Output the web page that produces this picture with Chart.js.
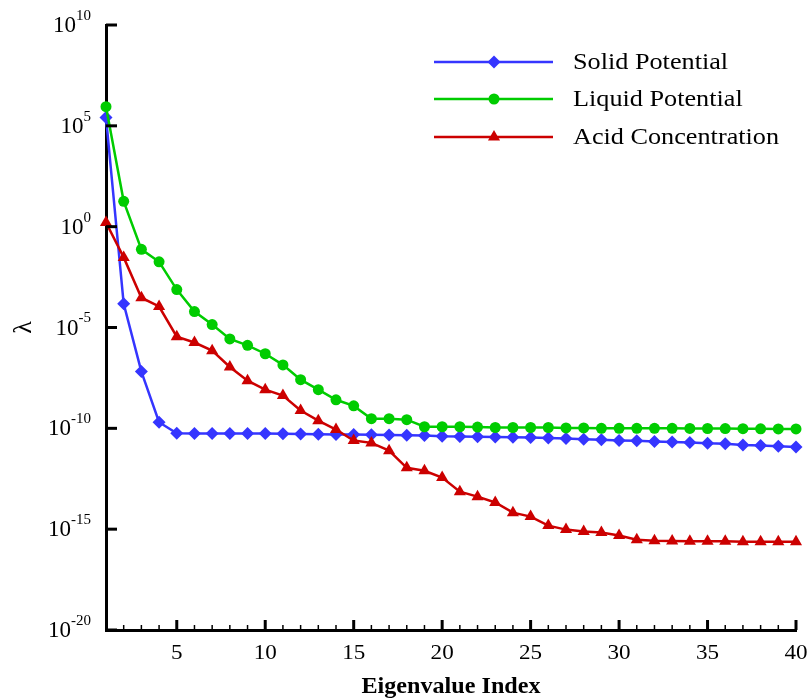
<!DOCTYPE html>
<html>
<head>
<meta charset="utf-8">
<script src="https://cdn.jsdelivr.net/npm/chart.js@4.4.1/dist/chart.umd.min.js"></script>
<style>
  body { margin: 0; background: #fff; }
</style>
</head>
<body>
<canvas id="eigChart" width="809" height="700"></canvas>
<script>
// Eigenvalue index (x axis)
var eigIndex = [1, 2, 3, 4, 5, 6, 7, 8, 9, 10,
                11, 12, 13, 14, 15, 16, 17, 18, 19, 20,
                21, 22, 23, 24, 25, 26, 27, 28, 29, 30,
                31, 32, 33, 34, 35, 36, 37, 38, 39, 40];

// lambda values
var solidPotential = [2.6e5, 1.5e-4, 6.5e-8, 2.0e-10, 5.7e-11, 5.6e-11, 5.6e-11, 5.6e-11, 5.5e-11, 5.5e-11,
                      5.4e-11, 5.2e-11, 5.1e-11, 5.0e-11, 4.9e-11, 4.8e-11, 4.7e-11, 4.6e-11, 4.4e-11, 4.0e-11,
                      3.9e-11, 3.8e-11, 3.7e-11, 3.6e-11, 3.5e-11, 3.3e-11, 3.1e-11, 2.9e-11, 2.7e-11, 2.5e-11,
                      2.4e-11, 2.2e-11, 2.1e-11, 2.0e-11, 1.8e-11, 1.7e-11, 1.5e-11, 1.4e-11, 1.3e-11, 1.2e-11];

var liquidPotential = [8.9e5, 1.8e1, 7.5e-2, 1.8e-2, 7.6e-4, 6.2e-5, 1.4e-5, 2.7e-6, 1.3e-6, 5.0e-7,
                       1.4e-7, 2.6e-8, 8.3e-9, 2.6e-9, 1.3e-9, 3.0e-10, 3.0e-10, 2.7e-10, 1.2e-10, 1.2e-10,
                       1.2e-10, 1.15e-10, 1.1e-10, 1.1e-10, 1.1e-10, 1.1e-10, 1.05e-10, 1.05e-10, 1.0e-10, 1.0e-10,
                       1.0e-10, 1.0e-10, 1.0e-10, 9.9e-11, 9.8e-11, 9.7e-11, 9.6e-11, 9.5e-11, 9.4e-11, 9.3e-11];

var acidConcentration = [1.6e0, 3.0e-2, 3.0e-4, 1.1e-4, 3.5e-6, 1.8e-6, 7.1e-7, 1.1e-7, 2.3e-8, 8.3e-9,
                         4.2e-9, 7.6e-10, 2.4e-10, 8.7e-11, 2.5e-11, 1.9e-11, 7.8e-12, 1.1e-12, 7.9e-13, 3.6e-13,
                         7.2e-14, 4.1e-14, 2.1e-14, 6.6e-15, 4.2e-15, 1.5e-15, 9.5e-16, 7.6e-16, 6.8e-16, 4.8e-16,
                         3.0e-16, 2.7e-16, 2.6e-16, 2.5e-16, 2.5e-16, 2.5e-16, 2.4e-16, 2.4e-16, 2.4e-16, 2.4e-16];

var seriesNames = ['Solid Potential', 'Liquid Potential', 'Acid Concentration'];
var yTickExponents = [-20, -15, -10, -5, 0, 5, 10];
var xMajorTicks = [5, 10, 15, 20, 25, 30, 35, 40];

var serif = '"Liberation Serif", "Times New Roman", serif';
Chart.defaults.font.family = serif;
Chart.defaults.color = '#000';

function toPoints(values) {
  var pts = [];
  for (var i = 0; i < eigIndex.length; i++) {
    pts.push({ x: eigIndex[i], y: values[i] });
  }
  return pts;
}

var seriesStyle = [
  { color: '#3535ff', point: 'rectRot', radius: 6.5 },
  { color: '#00cc00', point: 'circle', radius: 5.5 },
  { color: '#cc0000', point: 'triangle', radius: 7 }
];

function drawMarker(ctx, style, x, y) {
  var r = style.radius;
  ctx.fillStyle = style.color;
  ctx.beginPath();
  if (style.point === 'circle') {
    ctx.arc(x, y, r, 0, Math.PI * 2);
  } else if (style.point === 'rectRot') {
    ctx.moveTo(x, y - r);
    ctx.lineTo(x + r, y);
    ctx.lineTo(x, y + r);
    ctx.lineTo(x - r, y);
  } else {
    ctx.moveTo(x, y - r);
    ctx.lineTo(x + r * 0.866, y + r * 0.5);
    ctx.lineTo(x - r * 0.866, y + r * 0.5);
  }
  ctx.closePath();
  ctx.fill();
}

// stretched text, the reference lettering is a little wider than Liberation Serif
function wideText(ctx, text, x, y, sx) {
  ctx.save();
  ctx.translate(x, y);
  ctx.scale(sx, 1);
  ctx.fillText(text, 0, 0);
  ctx.restore();
}

// Inward tick marks, tick labels, axis titles and the legend
var axisDecor = {
  id: 'axisDecor',
  afterDraw: function(chart) {
    var ctx = chart.ctx;
    var xs = chart.scales.x;
    var ys = chart.scales.y;
    var area = chart.chartArea;
    ctx.save();
    ctx.strokeStyle = '#000';
    ctx.fillStyle = '#000';

    // y ticks + labels
    for (var i = 0; i < yTickExponents.length; i++) {
      var e = yTickExponents[i];
      var y = ys.getPixelForValue(Math.pow(10, e));
      ctx.lineWidth = 3;
      ctx.beginPath();
      ctx.moveTo(area.left, y);
      ctx.lineTo(area.left + 11, y);
      ctx.stroke();

      ctx.textAlign = 'right';
      ctx.textBaseline = 'middle';
      ctx.font = '15px ' + serif;
      var expText = String(e);
      var w = ctx.measureText(expText).width;
      ctx.fillText(expText, 91, y - 9);
      ctx.font = '23px ' + serif;
      ctx.fillText('10', 91 - w, y + 1);
    }

    // x ticks + labels
    for (var j = 0; j < eigIndex.length; j++) {
      var v = eigIndex[j];
      var x = xs.getPixelForValue(v);
      var major = xMajorTicks.indexOf(v) >= 0;
      ctx.lineWidth = major ? 3 : 1.5;
      ctx.beginPath();
      ctx.moveTo(x, area.bottom);
      ctx.lineTo(x, area.bottom - (major ? 10 : 5));
      ctx.stroke();
      if (major) {
        ctx.textAlign = 'center';
        ctx.textBaseline = 'middle';
        ctx.font = '22px ' + serif;
        wideText(ctx, String(v), x, area.bottom + 23, 1.05);
      }
    }

    // x axis title
    ctx.textAlign = 'center';
    ctx.textBaseline = 'middle';
    ctx.font = 'bold 23px ' + serif;
    wideText(ctx, 'Eigenvalue Index', (area.left + area.right) / 2, 687, 1.05);

    // y axis title
    ctx.save();
    ctx.translate(24, (area.top + area.bottom) / 2);
    ctx.rotate(-Math.PI / 2);
    ctx.font = '26px ' + serif;
    ctx.fillText('\u03bb', 0, 0);
    ctx.restore();

    // legend
    var legendY = [62, 99, 137];
    for (var k = 0; k < seriesNames.length; k++) {
      var st = seriesStyle[k];
      ctx.strokeStyle = st.color;
      ctx.lineWidth = 2.5;
      ctx.beginPath();
      ctx.moveTo(434, legendY[k]);
      ctx.lineTo(553, legendY[k]);
      ctx.stroke();
      drawMarker(ctx, st, 494, legendY[k]);
      ctx.fillStyle = '#000';
      ctx.textAlign = 'left';
      ctx.textBaseline = 'middle';
      ctx.font = '23px ' + serif;
      wideText(ctx, seriesNames[k], 573, legendY[k] + 1, 1.14);
    }
    ctx.restore();
  }
};

var datasets = [];
var data = [solidPotential, liquidPotential, acidConcentration];
for (var s = 0; s < data.length; s++) {
  datasets.push({
    label: seriesNames[s],
    data: toPoints(data[s]),
    borderColor: seriesStyle[s].color,
    backgroundColor: seriesStyle[s].color,
    borderWidth: 2.5,
    pointStyle: seriesStyle[s].point,
    pointRadius: seriesStyle[s].radius,
    pointBorderWidth: 0,
    tension: 0,
    clip: false,
    order: 2 - s
  });
}

new Chart(document.getElementById('eigChart').getContext('2d'), {
  type: 'line',
  data: { datasets: datasets },
  options: {
    responsive: false,
    animation: false,
    events: [],
    layout: {
      autoPadding: false,
      padding: { left: 106, top: 25, right: 13, bottom: 70 }
    },
    plugins: {
      legend: { display: false },
      tooltip: { enabled: false }
    },
    scales: {
      x: {
        type: 'linear',
        min: 1,
        max: 40,
        grid: { display: false, drawTicks: false },
        border: { display: true, color: '#000', width: 3 },
        ticks: { display: false }
      },
      y: {
        type: 'logarithmic',
        min: 1e-20,
        max: 1e10,
        grid: { display: false, drawTicks: false },
        border: { display: true, color: '#000', width: 3 },
        afterBuildTicks: function(scale) {
          scale.ticks = yTickExponents.map(function(e) { return { value: Math.pow(10, e) }; });
        },
        ticks: { display: false }
      }
    }
  },
  plugins: [axisDecor]
});
</script>
</body>
</html>
